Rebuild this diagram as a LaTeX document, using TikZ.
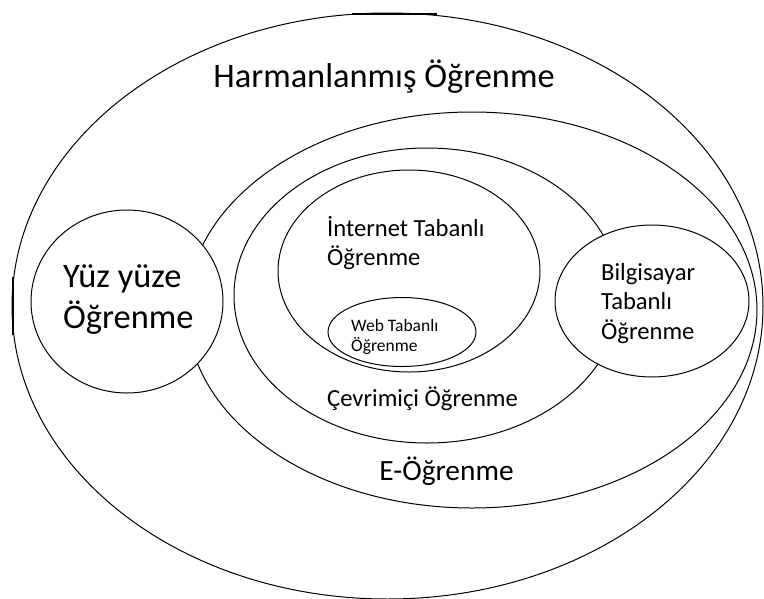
\documentclass[tikz,border=0pt]{standalone}
\usepackage{fontspec}
\setmainfont{Carlito}
\begin{document}
\begin{tikzpicture}[x=1pt,y=-1pt,
  ring/.style={draw=black, line width=1pt, fill=white},
  thickbit/.style={draw=black, line width=2pt},
  lbl/.style={inner sep=0pt, text=black},
  bigfont/.style={font=\fontsize{34.4pt}{40pt}\selectfont},
  midfont/.style={font=\fontsize{29.4pt}{34pt}\selectfont},
  normfont/.style={font=\fontsize{24.6pt}{30pt}\selectfont},
  smallfont/.style={font=\fontsize{17.5pt}{20pt}\selectfont}]
\useasboundingbox (0,0) rectangle (764,598);
\fill[white] (0,0) rectangle (764,598);
% Harmanlanmis Ogrenme (outer)
\draw[ring] (387.5,306) ellipse [x radius=375.5, y radius=293];
\draw[thickbit] (352,13.5) -- (437,13.5);
\draw[thickbit] (13,277) -- (13,335);
% E-Ogrenme
\draw[ring] (472,310) ellipse [x radius=285, y radius=198];
% Cevrimici Ogrenme
\draw[ring] (427,295.5) ellipse [x radius=193, y radius=147.5];
% Internet Tabanli Ogrenme
\draw[ring] (409,271) ellipse [x radius=131, y radius=101];
% Web Tabanli Ogrenme
\draw[ring] (402,332) ellipse [x radius=74, y radius=34.5];
% Yuz yuze Ogrenme
\draw[ring] (127,301.5) ellipse [x radius=96, y radius=91.5];
% Bilgisayar Tabanli Ogrenme
\draw[ring] (652,301) ellipse [x radius=97, y radius=76];

% labels
\node[lbl, bigfont, anchor=base] (harm) at (384,87) {Harmanlanmış Öğrenme};
\node[lbl, bigfont, anchor=base west] (yuz1) at (63,287) {Yüz yüze};
\node[lbl, bigfont, anchor=base west] (yuz2) at (63,328) {Öğrenme};
\node[lbl, normfont, anchor=base west] (int1) at (327,236) {İnternet Tabanlı};
\node[lbl, normfont, anchor=base west] (int2) at (327,265) {Öğrenme};
\node[lbl, smallfont, anchor=base west] (web1) at (351,331) {Web Tabanlı};
\node[lbl, smallfont, anchor=base west] (web2) at (351,351) {Öğrenme};
\node[lbl, normfont, anchor=base west] (bil1) at (601,280) {Bilgisayar};
\node[lbl, normfont, anchor=base west] (bil2) at (601,309) {Tabanlı};
\node[lbl, normfont, anchor=base west] (bil3) at (601,339) {Öğrenme};
\node[lbl, normfont, anchor=base] (cev) at (422.5,406) {Çevrimiçi Öğrenme};
\node[lbl, midfont, anchor=base] (eog) at (446.5,480) {E-Öğrenme};
\end{tikzpicture}
\end{document}
